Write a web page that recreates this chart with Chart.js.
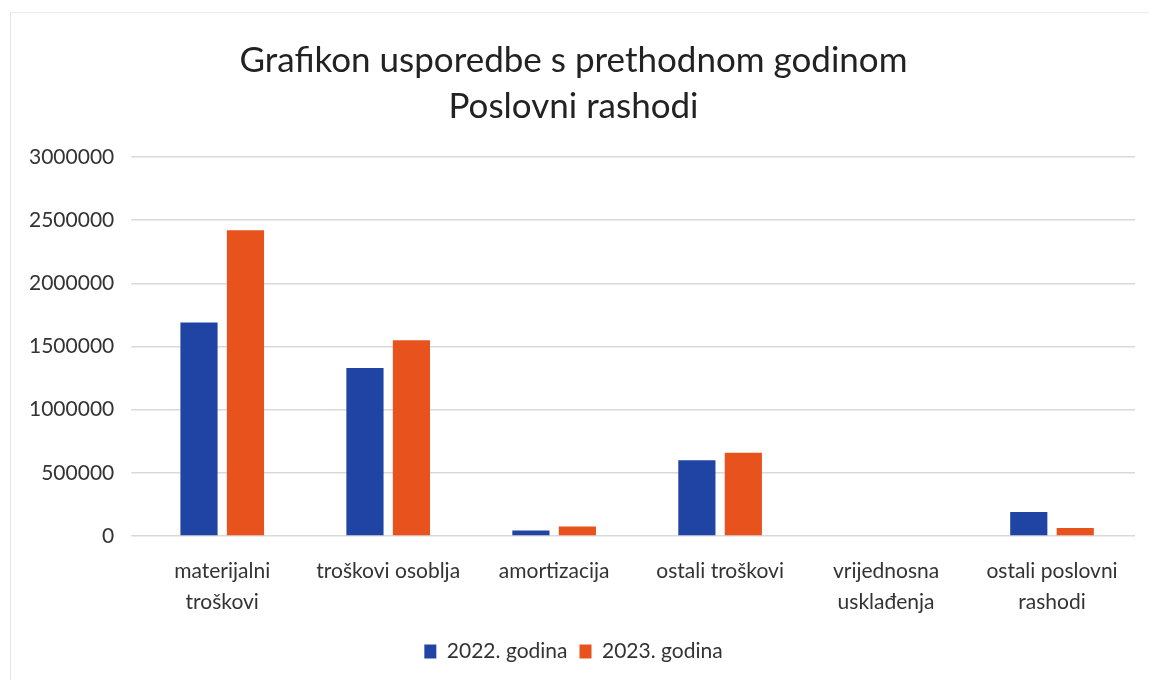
<!DOCTYPE html>
<html>
<head>
<meta charset="utf-8">
<script src="https://cdn.jsdelivr.net/npm/chart.js@4"></script>
<style>
  html, body { margin: 0; padding: 0; background: #fff; }
  #wrap { position: relative; width: 1149px; height: 680px; }
  #frame { position: absolute; left: 10px; top: 12px; width: 1139px; height: 668px;
           border-left: 1px solid #e3e3e3; border-top: 1px solid #ececec; box-sizing: border-box; }
</style>
</head>
<body>
<div id="wrap">
  <div id="frame"></div>
  <canvas id="chart" width="1149" height="680"></canvas>
</div>
<script>
const categories = [
  ['materijalni', 'troškovi'],
  'troškovi osoblja',
  'amortizacija',
  'ostali troškovi',
  ['vrijednosna', 'usklađenja'],
  ['ostali poslovni', 'rashodi']
];
const values2022 = [1690000, 1330000, 45000, 600000, 0, 190000];
const values2023 = [2420000, 1550000, 75000, 660000, 0, 65000];
const seriesNames = ['2022. godina', '2023. godina'];
const titleLines = ['Grafikon usporedbe s prethodnom godinom', 'Poslovni rashodi'];

const blue = '#2044a3';
const orange = '#e8531d';

new Chart(document.getElementById('chart'), {
  type: 'bar',
  data: {
    labels: categories,
    datasets: [
      { label: seriesNames[0], data: values2022, backgroundColor: blue },
      { label: seriesNames[1], data: values2023, backgroundColor: orange }
    ]
  },
  options: {
    responsive: false,
    animation: false,
    categoryPercentage: 0.56,
    barPercentage: 0.8,
    layout: { padding: { left: 12, right: 14, top: 28, bottom: 8 } },
    plugins: {
      title: {
        display: true,
        text: titleLines,
        color: '#222',
        font: { family: 'Lato', size: 35, weight: 'normal', lineHeight: 1.3 },
        padding: { top: 10, bottom: 28 }
      },
      legend: {
        position: 'bottom',
        labels: {
          color: '#333',
          font: { family: 'Lato', size: 21 },
          boxWidth: 12,
          boxHeight: 14,
          padding: 12
        }
      },
      tooltip: { enabled: false }
    },
    scales: {
      x: {
        grid: { display: false },
        border: { display: false },
        ticks: { color: '#333', font: { family: 'Lato', size: 21, lineHeight: 1.45 }, maxRotation: 0, padding: 12 }
      },
      y: {
        min: 0,
        max: 3000000,
        border: { display: false },
        grid: { color: '#d9d9d9', lineWidth: 1.5 },
        ticks: {
          stepSize: 500000,
          color: '#333',
          font: { family: 'Lato', size: 21 },
          padding: 17,
          callback: v => String(v)
        }
      }
    }
  }
});
</script>
</body>
</html>
